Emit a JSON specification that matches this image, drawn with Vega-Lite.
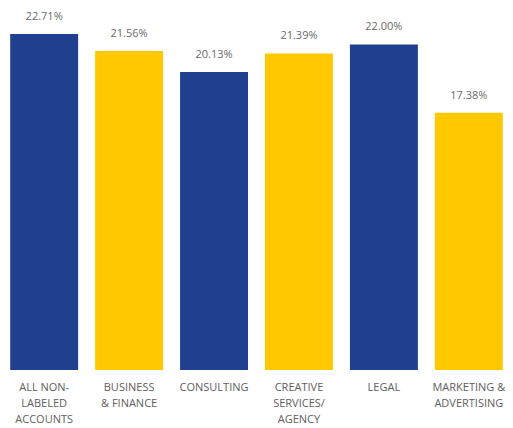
{
  "$schema": "https://vega.github.io/schema/vega-lite/v6.json",
  "width": 513,
  "height": 370,
  "padding": 0,
  "background": "white",
  "config": {"view": {"stroke": null}, "font": "Open Sans"},
  "data": {
    "values": [
      {"category": "ALL NON-\nLABELED\nACCOUNTS", "value": 22.71, "group": "A"},
      {"category": "BUSINESS\n& FINANCE", "value": 21.56, "group": "B"},
      {"category": "CONSULTING", "value": 20.13, "group": "A"},
      {"category": "CREATIVE\nSERVICES/\nAGENCY", "value": 21.39, "group": "B"},
      {"category": "LEGAL", "value": 22.00, "group": "A"},
      {"category": "MARKETING &\nADVERTISING", "value": 17.38, "group": "B"}
    ]
  },
  "encoding": {
    "x": {
      "field": "category", "type": "nominal", "sort": null,
      "scale": {"paddingInner": 0.2, "paddingOuter": 0.12},
      "axis": {
        "title": null, "domain": false, "ticks": false, "labelAngle": 0,
        "labelExpr": "split(datum.label, '\\n')",
        "labelFont": "Open Sans", "labelFontSize": 11, "labelColor": "#606060",
        "labelPadding": 11, "labelLineHeight": 16, "labelLimit": 0
      }
    },
    "y": {
      "field": "value", "type": "quantitative",
      "scale": {"domain": [0, 25], "nice": false},
      "axis": null
    }
  },
  "layer": [
    {
      "mark": {"type": "bar"},
      "encoding": {
        "color": {
          "field": "group", "type": "nominal",
          "scale": {"domain": ["A", "B"], "range": ["#1F3F8F", "#FFC800"]},
          "legend": null
        }
      }
    },
    {
      "mark": {"type": "text", "baseline": "bottom", "dy": -12, "font": "Open Sans", "fontSize": 11, "color": "#6a6a6a",
        "text": {"expr": "format(datum.value, '.2f') + '%'"}},
      "encoding": {}
    }
  ]
}
